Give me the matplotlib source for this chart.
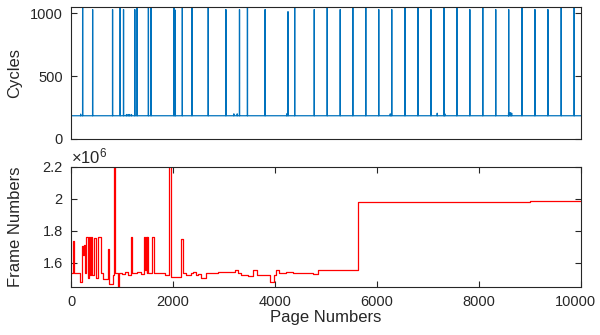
import numpy as np
import matplotlib
matplotlib.use("Agg")
import matplotlib.pyplot as plt
from matplotlib.transforms import ScaledTranslation

plt.rcParams['font.family'] = ['Liberation Sans', 'DejaVu Sans']

# ---------------- data ----------------
n_pages = 10000
cycles_base = 185
spike_pages = [228, 424, 815, 964, 1030, 1251, 1297, 1518, 1570, 2020, 2046, 2183,
               2372, 2691, 3037, 3304, 3460, 3806, 4255, 4386, 4770, 5024, 5279,
               5526, 5780, 6034, 6289, 6549, 6803, 7058, 7312, 7566, 7820, 8074,
               8328, 8582, 8843, 9097, 9351, 9612, 9866]
spike_cycles = [1100, 1030, 1030, 1100, 1030, 1030, 1100, 1100, 1100, 1100, 1025, 1100,
                1100, 1100, 1030, 1030, 1100, 1030, 1013, 1100, 1030, 1100, 1030,
                1100, 1100, 1030, 1030, 1100, 1100, 1030, 1100, 1100, 1030, 1100,
                1030, 1030, 1100, 1030, 1030, 1100, 1100]
bump_pages = [189, 1088, 1120, 1150, 1186, 3193, 3259, 4229, 6260, 7181, 7330, 8580, 8610, 8640]
bump_cycles = [198, 195, 195, 195, 195, 200, 200, 200, 200, 205, 200, 208, 210, 206]

frame_pages = [0, 46, 65, 176, 208, 228, 248, 274, 287, 326, 352, 371, 391, 417, 443,
               456, 482, 534, 586, 632, 717, 736, 828, 841, 867, 912, 938, 1000, 1060,
               1121, 1173, 1199, 1300, 1380, 1434, 1453, 1466, 1486, 1499, 1512, 1597,
               1623, 1838, 1922, 1955, 2164, 2203, 2262, 2359, 2392, 2444, 2490, 2555,
               2653, 2881, 2979, 3206, 3272, 3337, 3467, 3578, 3643, 3904, 3989, 4021,
               4074, 4217, 4346, 4379, 4738, 4850, 5630, 9000, 10000]
frame_values = [1.534, 1.736, 1.534, 1.480, 1.705, 1.648, 1.710, 1.534, 1.7625, 1.502,
                1.7625, 1.523, 1.7625, 1.523, 1.534, 1.752, 1.502, 1.7625, 1.534, 1.498,
                1.684, 1.467, 1.523, 2.30, 1.534, 1.43, 1.538, 1.530, 1.540, 1.523,
                1.7625, 1.534, 1.540, 1.530, 1.7625, 1.555, 1.7625, 1.534, 1.7625, 1.534,
                1.7625, 1.538, 1.523, 2.30, 1.513, 1.750, 1.534, 1.523, 1.534, 1.544,
                1.523, 1.530, 1.502, 1.534, 1.540, 1.544, 1.555, 1.534, 1.523, 1.517,
                1.555, 1.523, 1.481, 1.523, 1.555, 1.534, 1.544, 1.537, 1.537, 1.529,
                1.555, 1.981, 1.986, 1.986]

x_ticks = [0, 2000, 4000, 6000, 8000, 10000]
x_tick_labels = ['0', '2000', '4000', '6000', '8000', '10000']
frame_ticks = [1.6e6, 1.8e6, 2.0e6, 2.2e6]
frame_tick_labels = ['1.6', '1.8', '2', '2.2']
cycle_ticks = [0, 500, 1000]

# ---------------- build series ----------------
pages = np.arange(n_pages + 1)
cycles = np.full(pages.shape, float(cycles_base))
for p, c in zip(bump_pages, bump_cycles):
    cycles[p] = c
for p, c in zip(spike_pages, spike_cycles):
    cycles[p] = c

frames = np.array(frame_values) * 1e6

# ---------------- figure ----------------
fig = plt.figure(figsize=(6.0, 3.35), dpi=100)
ax1 = fig.add_axes([71 / 600, 1 - 139 / 335, 510 / 600, 132 / 335])
ax2 = fig.add_axes([71 / 600, 1 - 286.7 / 335, 510 / 600, 120 / 335])

dark = '#262626'
for ax in (ax1, ax2):
    for s in ax.spines.values():
        s.set_color(dark)
        s.set_linewidth(0.8)
    ax.tick_params(direction='in', length=4, width=0.8, colors=dark,
                   labelsize=10.5, top=True, right=True, pad=6)

ax1.plot(pages, cycles, color='#0072BD', linewidth=0.9)
ax1.set_xlim(0, 10000)
ax1.set_ylim(0, 1050)
ax1.set_yticks(cycle_ticks)
ax1.set_xticks([])
ax1.set_ylabel('Cycles', fontsize=12, color=dark)
ax1.yaxis.set_label_coords(-0.095, 0.5)

ax2.plot(frame_pages, frames, color='#FF0000', linewidth=0.9, drawstyle='steps-post')
ax2.set_xlim(0, 10000)
ax2.set_ylim(1.45e6, 2.2e6)
ax2.set_xticks(x_ticks)
ax2.set_xticklabels(x_tick_labels)
ax2.set_yticks(frame_ticks)
ax2.set_yticklabels(frame_tick_labels)
ax2.set_ylabel('Frame Numbers', fontsize=12, color=dark)
ax2.yaxis.set_label_coords(-0.095, 0.5)
ax2.set_xlabel('Page Numbers', fontsize=12, color=dark, labelpad=1)
ax2.text(0.0, 1.005, r'$\mathregular{\times10^{6}}$', transform=ax2.transAxes,
         fontsize=12, color=dark, ha='left', va='bottom')

# keep the last x tick label inside the canvas (as in the reference)
last = ax2.get_xticklabels()[-1]
last.set_transform(last.get_transform() + ScaledTranslation(-4 / 72, 0, fig.dpi_scale_trans))

fig.savefig('out.png', dpi=100)
